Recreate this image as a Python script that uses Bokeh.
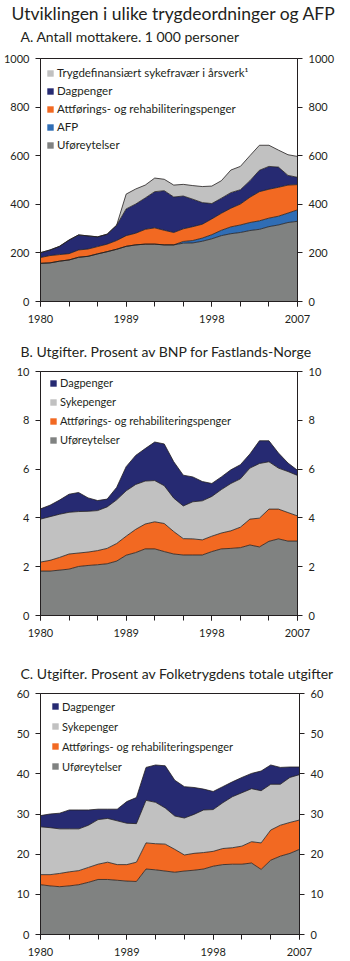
from bokeh.plotting import figure
from bokeh.models import (ColumnDataSource, LinearAxis, FixedTicker, Legend,
                          LegendItem, Title, Range1d)
from bokeh.layouts import column
from bokeh.embed import file_html
from bokeh.resources import INLINE

years = list(range(1980, 2008))

# ---- Panel A: recipients, 1000 persons ----
a_ufore = [157, 159, 166, 171, 182, 186, 196, 205, 215, 227, 233, 236, 236, 233,
           233, 240, 241, 248, 258, 271, 279, 284, 292, 297, 308, 315, 325, 330]
a_afp = [0, 0, 0, 0, 0, 0, 0, 0, 0, 0, 0, 0, 0, 0,
         0, 7, 10, 13, 17, 22, 28, 31, 33, 35, 35, 36, 39, 47]
a_attf = [24, 30, 27, 26, 30, 30, 30, 31, 36, 44, 48, 61, 67, 60,
          51, 52, 57, 57, 65, 70, 77, 86, 104, 120, 119, 119, 115, 104]
a_dag = [20, 23, 34, 56, 62, 54, 40, 41, 63, 110, 120, 129, 149, 163,
         146, 135, 113, 89, 63, 62, 64, 59, 68, 88, 94, 83, 40, 30]
a_syk = [0, 0, 0, 0, 0, 0, 0, 0, 0, 61, 62, 53, 56, 47,
         49, 48, 56, 66, 72, 72, 93, 96, 103, 103, 87, 70, 85, 86]

# ---- Panel B: expenditure, % of mainland GDP ----
b_ufore = [1.82, 1.82, 1.86, 1.90, 2.01, 2.05, 2.08, 2.12, 2.23, 2.47, 2.58, 2.73, 2.73, 2.62,
           2.52, 2.48, 2.48, 2.48, 2.62, 2.73, 2.75, 2.78, 2.89, 2.81, 3.04, 3.14, 3.05, 3.05]
b_attf = [0.37, 0.44, 0.52, 0.62, 0.55, 0.55, 0.58, 0.63, 0.72, 0.78, 0.95, 1.02, 1.11, 1.15,
          0.92, 0.67, 0.66, 0.62, 0.63, 0.65, 0.72, 0.84, 1.06, 1.18, 1.32, 1.22, 1.17, 1.03]
b_syke = [1.76, 1.79, 1.77, 1.71, 1.70, 1.67, 1.64, 1.70, 1.79, 1.86, 1.84, 1.76, 1.69, 1.55,
          1.37, 1.34, 1.52, 1.60, 1.63, 1.78, 1.94, 1.98, 2.09, 2.24, 1.94, 1.68, 1.68, 1.66]
b_dag = [0.42, 0.47, 0.58, 0.74, 0.78, 0.55, 0.41, 0.32, 0.51, 0.99, 1.19, 1.33, 1.58, 1.71,
         1.49, 1.26, 1.02, 0.79, 0.53, 0.52, 0.56, 0.58, 0.58, 0.93, 0.86, 0.62, 0.35, 0.21]

# ---- Panel C: expenditure, % of total National Insurance expenditure ----
c_ufore = [12.4, 12.1, 11.9, 12.1, 12.4, 13.0, 13.7, 13.7, 13.5, 13.3, 13.2, 16.3, 16.1, 15.8,
           15.5, 15.8, 16.0, 16.3, 17.0, 17.4, 17.5, 17.5, 17.8, 16.2, 18.5, 19.5, 20.2, 21.2]
c_attf = [2.5, 2.8, 3.3, 3.5, 3.5, 3.7, 3.8, 4.3, 3.9, 4.1, 4.8, 6.5, 6.5, 6.7,
          5.7, 4.0, 4.2, 4.1, 3.7, 4.0, 4.1, 4.5, 5.3, 6.6, 7.5, 7.7, 7.7, 7.3]
c_syke = [11.9, 11.7, 11.1, 10.7, 10.4, 10.5, 11.1, 10.9, 10.9, 10.3, 9.6, 10.6, 10.3, 9.0,
          8.3, 9.2, 9.7, 10.6, 10.4, 11.4, 12.7, 13.3, 13.2, 13.0, 11.4, 10.2, 11.2, 11.3]
c_dag = [2.8, 3.4, 3.9, 4.7, 4.7, 3.8, 2.6, 2.3, 2.9, 5.4, 6.5, 8.2, 9.3, 10.5,
         8.9, 7.8, 6.7, 5.2, 4.5, 4.0, 3.7, 3.8, 3.8, 4.9, 4.8, 4.2, 2.6, 1.9]

x_labels = [1980, 1989, 1998, 2007]
x_minor = list(range(1980, 2008, 3))

main_title = "Utviklingen i ulike trygdeordninger og AFP"
title_a = "A.  Antall mottakere. 1 000 personer"
title_b = "B.  Utgifter. Prosent av BNP for Fastlands-Norge"
title_c = "C.  Utgifter. Prosent av Folketrygdens totale utgifter"

lbl_uf = "Uføreytelser"
lbl_afp = "AFP"
lbl_att = "Attførings- og rehabiliteringspenger"
lbl_dag = "Dagpenger"
lbl_syk_a = "Trygdefinansiært sykefravær i årsverk¹"
lbl_syk = "Sykepenger"

C_UF = "#808281"
C_AFP = "#2F6DB5"
C_ATT = "#F26922"
C_DAG = "#262A72"
C_SYK = "#C1C1C1"
INK = "#231F20"
FONT = "Lato"


def panel(series, ymax, ystep, frame_w, frame_h, top, bottom, titles,
          legend_order, legend_xy, legend_font, label_h, spacing):
    names = [s[0] for s in series]
    data = {"year": years}
    for key, vals, _, _ in series:
        data[key] = vals
    src = ColumnDataSource(data)

    p = figure(frame_width=frame_w, frame_height=frame_h,
               x_range=Range1d(1980, 2007), y_range=Range1d(0, ymax),
               output_backend="svg", toolbar_location=None, title=None,
               x_axis_location=None, y_axis_location=None)
    p.min_border_left = 37
    p.min_border_right = 350 - 37 - frame_w
    p.min_border_top = top
    p.min_border_bottom = bottom
    p.xgrid.visible = False
    p.ygrid.visible = False
    p.outline_line_color = INK
    p.outline_line_width = 1
    p.background_fill_color = "white"
    p.border_fill_color = "white"

    colors = [s[2] for s in series]
    areas = p.varea_stack(stackers=names, x="year", color=colors, source=src)
    p.vline_stack(stackers=names, x="year", color=INK, line_width=0.8,
                  source=src)

    yticks = list(range(0, int(ymax) + 1, ystep))

    def style_axis(ax):
        ax.axis_line_color = INK
        ax.axis_line_width = 1
        ax.major_tick_line_color = INK
        ax.minor_tick_line_color = INK
        ax.major_tick_in = 0
        ax.major_tick_out = 5
        ax.minor_tick_in = 0
        ax.minor_tick_out = 5
        ax.major_label_text_font = FONT
        ax.major_label_text_font_size = "11px"
        ax.major_label_text_color = INK

    for side in ("left", "right"):
        ax = LinearAxis(ticker=FixedTicker(ticks=yticks))
        style_axis(ax)
        ax.major_label_standoff = 6
        ax.minor_tick_out = 0
        p.add_layout(ax, side)

    xa = LinearAxis(ticker=FixedTicker(ticks=x_labels, minor_ticks=x_minor))
    style_axis(xa)
    xa.major_label_standoff = 8
    p.add_layout(xa, "below")

    items = []
    lookup = {s[0]: (i, s) for i, s in enumerate(series)}
    for key in legend_order:
        i, s = lookup[key]
        items.append(LegendItem(label=s[3], renderers=[areas[i]]))
    n = len(items)
    lh = n * label_h + (n - 1) * spacing
    lx, ltop = legend_xy
    leg = Legend(items=items, location=(lx, frame_h - ltop - lh),
                 orientation="vertical", border_line_color=None,
                 background_fill_alpha=0, label_text_font=FONT,
                 label_text_font_size=legend_font, label_text_color=INK,
                 glyph_width=8, glyph_height=8, label_height=label_h,
                 label_standoff=3, spacing=spacing, padding=0, margin=0)
    p.add_layout(leg)

    # titles stacked above the frame; first entry is nearest to the frame
    for text, size, offset, standoff in titles:
        p.add_layout(Title(text=text, align="left", offset=offset,
                           standoff=standoff, text_font=FONT,
                           text_font_size=size, text_font_style="normal",
                           text_color=INK), "above")
    return p


pa = panel([("uf", a_ufore, C_UF, lbl_uf), ("afp", a_afp, C_AFP, lbl_afp),
            ("att", a_attf, C_ATT, lbl_att), ("dag", a_dag, C_DAG, lbl_dag),
            ("syk", a_syk, C_SYK, lbl_syk_a)],
           1000, 200, 257, 243, 58, 27,
           [(" ", "1px", 0, 9), (title_a, "14px", -20, 4),
            (main_title, "17.5px", -29, 0)],
           ["syk", "dag", "att", "afp", "uf"], (6, 7), "11.5px", 15, 3)

pb = panel([("uf", b_ufore, C_UF, lbl_uf), ("att", b_attf, C_ATT, lbl_att),
            ("syk", b_syke, C_SYK, lbl_syk), ("dag", b_dag, C_DAG, lbl_dag)],
           10, 2, 257, 244, 43, 27,
           [(title_b, "14px", -20, 24)],
           ["dag", "syk", "att", "uf"], (9, 4), "11px", 15, 4)

pc = panel([("uf", c_ufore, C_UF, lbl_uf), ("att", c_attf, C_ATT, lbl_att),
            ("syk", c_syke, C_SYK, lbl_syk), ("dag", c_dag, C_DAG, lbl_dag)],
           60, 10, 259, 241, 51, 27,
           [(title_c, "14px", -20, 24)],
           ["dag", "syk", "att", "uf"], (11, 5), "11px", 16, 4)

layout = column(pa, pb, pc, spacing=0)
open("out.html", "w").write(file_html(layout, INLINE))
